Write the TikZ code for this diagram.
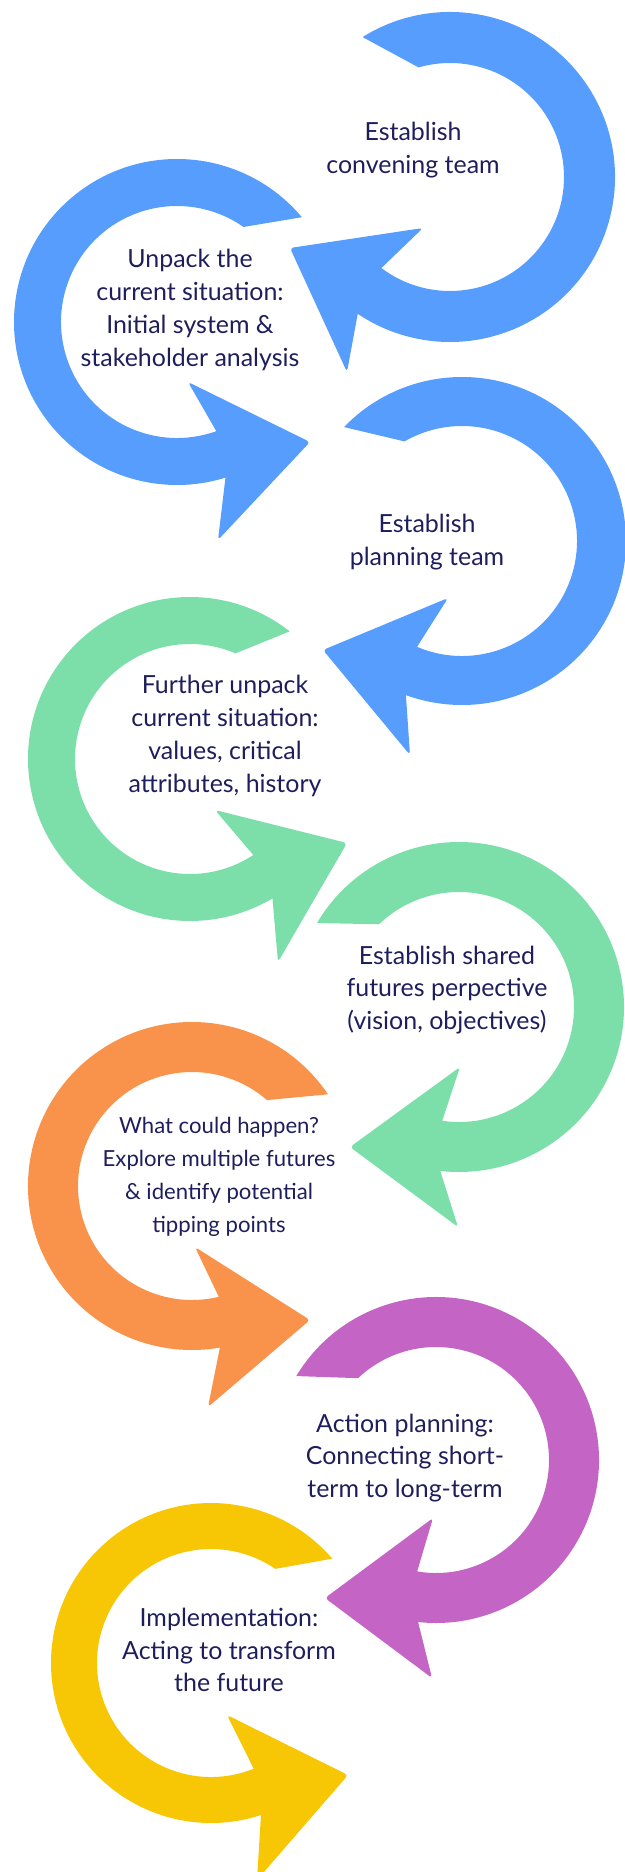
\documentclass[tikz,border=0pt]{standalone}
\usepackage{fontspec}
\setmainfont{Lato}
\usetikzlibrary{calc}
\definecolor{loopblue}{RGB}{86,157,253}
\definecolor{loopgreen}{RGB}{124,223,170}
\definecolor{looporange}{RGB}{249,147,75}
\definecolor{looppurple}{RGB}{196,100,196}
\definecolor{loopyellow}{RGB}{247,199,5}
\definecolor{navy}{RGB}{30,30,92}
\begin{document}
\begin{tikzpicture}[x=0.02cm,y=0.02cm,
  steplabel/.style={text=navy, align=center, inner sep=0pt,
    font=\fontsize{14.2}{18.7}\selectfont},
  smalllabel/.style={steplabel, font=\fontsize{12.6}{18.7}\selectfont},
  loopshape/.style={fill=#1, line join=round}]
\useasboundingbox (0,0) rectangle (625,-1872);
\clip (0,0) rectangle (625,-1872);

% ring centres
\coordinate (c1) at (450,-177);
\coordinate (c2) at (177,-322);
\coordinate (c3) at (462,-541);
\coordinate (c4) at (190,-759);
\coordinate (c5) at (459,-1007);
\coordinate (c6) at (192,-1186);
\coordinate (c7) at (436,-1460);
\coordinate (c8) at (211,-1663);

% 1: clockwise loop, head pointing left
\path[loopshape=loopblue] ($(c1)+(122:165)$) arc[start angle=122, end angle=-124, radius=165]
  [rounded corners=2pt] -- (347,-372) -- (290,-248) -- (423,-228) [sharp corners]
  -- ($(c1)+(-127:114)$) arc[start angle=-127, end angle=106, radius=114] -- cycle;

% 2: anticlockwise loop, head pointing right
\path[loopshape=loopblue] ($(c2)+(40:163)$) arc[start angle=40, end angle=287.3, radius=163]
  [rounded corners=2pt] -- (218,-540) -- (310,-442) -- (188,-382) [sharp corners]
  -- ($(c2)+(289.8:116)$) arc[start angle=289.8, end angle=55, radius=116] -- cycle;

% 3
\path[loopshape=loopblue] ($(c3)+(136:164)$) arc[start angle=136, end angle=-110, radius=164]
  [rounded corners=2pt] -- (410,-755) -- (323,-650) -- (448,-598) [sharp corners]
  -- ($(c3)+(-113:115)$) arc[start angle=-113, end angle=120, radius=115] -- cycle;

% 4
\path[loopshape=loopgreen] ($(c4)+(52:162)$) arc[start angle=52, end angle=300.6, radius=162]
  [rounded corners=2pt] -- (278,-962) -- (347,-843) -- (215,-810) [sharp corners]
  -- ($(c4)+(303.4:115)$) arc[start angle=303.4, end angle=66.7, radius=115] -- cycle;

% 5
\path[loopshape=loopgreen] ($(c5)+(149.4:165)$) arc[start angle=149.4, end angle=-96.5, radius=165]
  [rounded corners=2pt] -- (458,-1227) -- (350,-1147) -- (460,-1067) [sharp corners]
  -- ($(c5)+(-98.4:115)$) arc[start angle=-98.4, end angle=134, radius=115] -- cycle;

% 6
\path[loopshape=looporange] ($(c6)+(34:164)$) arc[start angle=34, end angle=279.8, radius=164]
  [rounded corners=2pt] -- (208,-1407) -- (310,-1320) -- (195,-1247) [sharp corners]
  -- ($(c6)+(283.6:114)$) arc[start angle=283.6, end angle=48.9, radius=114] -- cycle;

% 7
\path[loopshape=looppurple] ($(c7)+(149:163)$) arc[start angle=149, end angle=-96.3, radius=163]
  [rounded corners=2pt] -- (432,-1678) -- (325,-1598) -- (433,-1518) [sharp corners]
  -- ($(c7)+(-99.6:113)$) arc[start angle=-99.6, end angle=133.6, radius=113] -- cycle;

% 8
\path[loopshape=loopyellow] ($(c8)+(40.7:160)$) arc[start angle=40.7, end angle=288.2, radius=160]
  [rounded corners=2pt] -- (257,-1880) -- (348,-1775) -- (227,-1715) [sharp corners]
  -- ($(c8)+(292:114)$) arc[start angle=292, end angle=55.7, radius=114] -- cycle;

% step labels
\node[steplabel] (s1) at (413,-150) {Establish\\convening team};
\node[steplabel] (s2) at (190,-310) {Unpack the\\current situation:\\Initial system \&\\stakeholder analysis};
\node[steplabel] (s3) at (427,-542) {Establish\\planning team};
\node[steplabel] (s4) at (225,-736) {Further unpack\\current situation:\\values, critical\\attributes, history};
\node[steplabel] (s5) at (447,-990) {Establish shared\\futures perpective\\(vision, objectives)};
\node[smalllabel] (s6) at (219,-1177) {What could happen?\\Explore multiple futures\\\& identify potential\\tipping points};
\node[steplabel] (s7) at (405,-1458) {Action planning:\\Connecting short-\\term to long-term};
\node[steplabel] (s8) at (229,-1650) {Implementation:\\Acting to transform\\the future};
\end{tikzpicture}
\end{document}
